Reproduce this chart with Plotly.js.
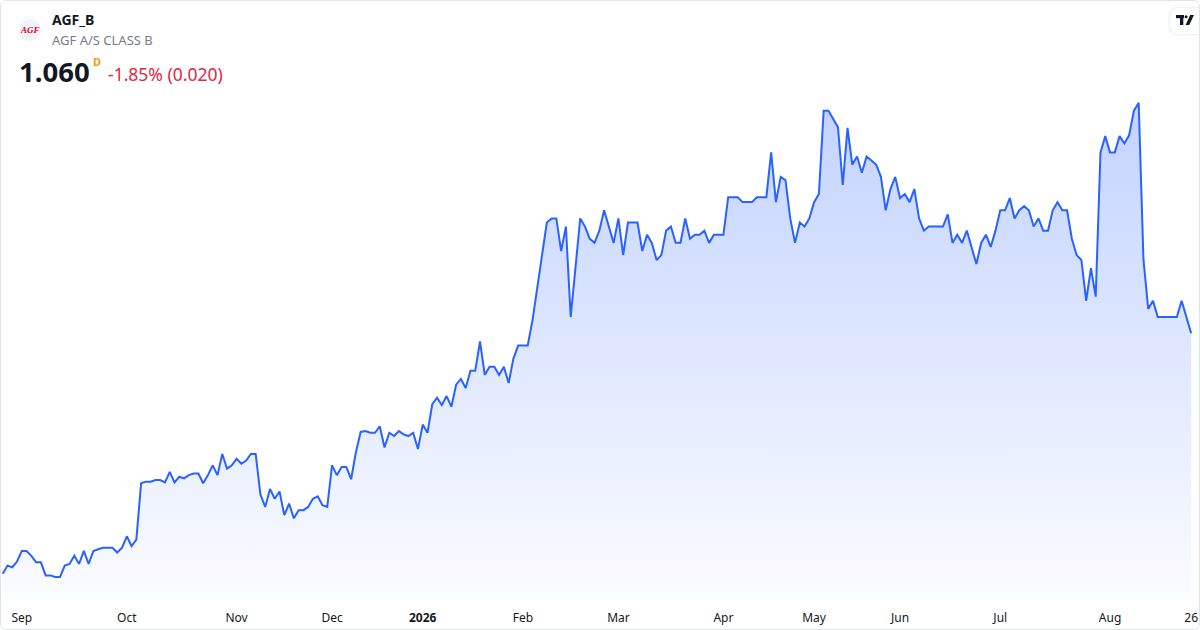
<!DOCTYPE html>
<html>
<head>
<meta charset="utf-8">
<script src="https://cdn.plot.ly/plotly-3.0.1.min.js"></script>
<style>
  html, body { margin: 0; padding: 0; background: #ffffff; }
  #wrap { position: relative; width: 1200px; height: 630px; overflow: hidden; }
  #chart { width: 1200px; height: 630px; }
  #frame { position: absolute; left: 0; top: 0; width: 1198px; height: 628px;
           border: 1px solid #e0e3eb; border-radius: 6px; pointer-events: none; }
</style>
</head>
<body>
<div id="wrap">
  <div id="chart"></div>
  <div id="frame"></div>
</div>
<script>
// ---- Data (daily closes, AGF_B, late Aug 2025 – 26 Aug 2026) ----
const prices = [
  0.765, 0.775, 0.773, 0.780, 0.793, 0.793, 0.787, 0.779, 0.779, 0.763,
  0.763, 0.761, 0.761, 0.775, 0.777, 0.787, 0.777, 0.793, 0.777, 0.793,
  0.795, 0.797, 0.797, 0.797, 0.791, 0.797, 0.811, 0.799, 0.807, 0.876,
  0.878, 0.878, 0.880, 0.880, 0.877, 0.890, 0.877, 0.884, 0.882, 0.886,
  0.888, 0.888, 0.876, 0.886, 0.898, 0.886, 0.912, 0.894, 0.898, 0.906,
  0.900, 0.904, 0.912, 0.912, 0.862, 0.847, 0.869, 0.857, 0.866, 0.837,
  0.851, 0.833, 0.843, 0.843, 0.847, 0.857, 0.860, 0.849, 0.847, 0.898,
  0.886, 0.896, 0.896, 0.881, 0.914, 0.939, 0.940, 0.938, 0.938, 0.946,
  0.920, 0.938, 0.934, 0.940, 0.936, 0.934, 0.938, 0.918, 0.948, 0.938,
  0.973, 0.981, 0.972, 0.983, 0.970, 0.997, 1.004, 0.993, 1.014, 1.014,
  1.050, 1.009, 1.019, 1.019, 1.009, 1.019, 0.999, 1.029, 1.045, 1.045,
  1.045, 1.076, 1.117, 1.156, 1.196, 1.201, 1.201, 1.161, 1.191, 1.080,
  1.140, 1.201, 1.191, 1.176, 1.171, 1.186, 1.211, 1.191, 1.171, 1.201,
  1.156, 1.196, 1.196, 1.196, 1.161, 1.181, 1.171, 1.150, 1.156, 1.186,
  1.191, 1.171, 1.171, 1.201, 1.176, 1.181, 1.181, 1.186, 1.171, 1.181,
  1.181, 1.181, 1.227, 1.227, 1.227, 1.221, 1.221, 1.221, 1.227, 1.227,
  1.227, 1.282, 1.221, 1.252, 1.248, 1.201, 1.171, 1.196, 1.191, 1.201,
  1.221, 1.231, 1.333, 1.333, 1.323, 1.313, 1.242, 1.312, 1.267, 1.277,
  1.257, 1.277, 1.272, 1.267, 1.252, 1.211, 1.237, 1.252, 1.226, 1.231,
  1.221, 1.237, 1.201, 1.186, 1.191, 1.191, 1.191, 1.191, 1.206, 1.171,
  1.181, 1.171, 1.186, 1.166, 1.145, 1.171, 1.181, 1.166, 1.186, 1.211,
  1.211, 1.226, 1.201, 1.211, 1.216, 1.211, 1.191, 1.201, 1.186, 1.186,
  1.211, 1.221, 1.211, 1.211, 1.176, 1.156, 1.150, 1.100, 1.140, 1.105,
  1.282, 1.302, 1.282, 1.282, 1.302, 1.293, 1.303, 1.333, 1.343, 1.151,
  1.090, 1.100, 1.080, 1.080, 1.080, 1.080, 1.080, 1.100, 1.080, 1.060
];
// Index of the first trading session of each month (and the last session)
const tickIndex = [4, 26, 49, 69, 88, 109, 129, 151, 170, 188, 209, 232, 249];
const tickLabels = ['Sep', 'Oct', 'Nov', 'Dec', '<b>2026</b>', 'Feb', 'Mar', 'Apr', 'May', 'Jun', 'Jul', 'Aug', '26'];

const symbol = 'AGF_B';
const company = 'AGF A/S CLASS B';
const lastPrice = '1.060';
const changeText = '-1.85% (0.020)';

// ---- Layout helpers (pixel -> paper) ----
const W = 1200, PH = 600;
const px = x => x / W;
const py = y => 1 - y / PH;

const xs = prices.map((_, i) => i);

const trace = {
  x: xs,
  y: prices,
  type: 'scatter',
  mode: 'lines',
  line: { color: '#2962ff', width: 2 },
  fill: 'tozeroy',
  fillgradient: {
    type: 'vertical',
    start: 0.733,
    stop: 1.343,
    colorscale: [[0, 'rgba(41,98,255,0.02)'], [1, 'rgba(41,98,255,0.28)']]
  },
  hoverinfo: 'skip'
};

function rectPath(x0, y0, x1, y1) {
  return `M${px(x0)},${py(y0)} L${px(x1)},${py(y0)} L${px(x1)},${py(y1)} L${px(x0)},${py(y1)} Z`;
}
function polyPath(pts) {
  return 'M' + pts.map(p => `${px(p[0])},${py(p[1])}`).join(' L') + ' Z';
}
function roundRect(x0, y0, x1, y1, r) {
  const k = 0.55 * r;
  return `M${px(x0 + r)},${py(y0)} L${px(x1 - r)},${py(y0)} ` +
    `C${px(x1 - r + k)},${py(y0)} ${px(x1)},${py(y0 + r - k)} ${px(x1)},${py(y0 + r)} ` +
    `L${px(x1)},${py(y1 - r)} ` +
    `C${px(x1)},${py(y1 - r + k)} ${px(x1 - r + k)},${py(y1)} ${px(x1 - r)},${py(y1)} ` +
    `L${px(x0 + r)},${py(y1)} ` +
    `C${px(x0 + r - k)},${py(y1)} ${px(x0)},${py(y1 - r + k)} ${px(x0)},${py(y1 - r)} ` +
    `L${px(x0)},${py(y0 + r)} ` +
    `C${px(x0)},${py(y0 + r - k)} ${px(x0 + r - k)},${py(y0)} ${px(x0 + r)},${py(y0)} Z`;
}

const font = '"Noto Sans", "Open Sans", Roboto, sans-serif';

const layout = {
  width: 1200,
  height: 630,
  margin: { l: 0, r: 0, t: 0, b: 30, pad: 0 },
  paper_bgcolor: '#ffffff',
  plot_bgcolor: '#ffffff',
  showlegend: false,
  font: { family: font, color: '#131722', size: 12 },
  xaxis: {
    range: [-0.566, 250.85],
    showgrid: false,
    zeroline: false,
    showline: false,
    ticks: '',
    tickmode: 'array',
    tickvals: tickIndex,
    ticktext: tickLabels,
    tickfont: { family: font, size: 12, color: '#131722' },
    ticklabelstandoff: 9,
    fixedrange: true
  },
  yaxis: {
    range: [0.7328, 1.469],
    visible: false,
    showgrid: false,
    zeroline: false,
    fixedrange: true
  },
  shapes: [
    // logo circle
    { type: 'circle', xref: 'paper', yref: 'paper',
      x0: px(19), x1: px(41), y0: py(41), y1: py(19),
      fillcolor: '#f0f3fa', line: { width: 0 } },
    // TradingView badge shadow + body
    { type: 'path', xref: 'paper', yref: 'paper', path: roundRect(1168.5, 6.5, 1208, 35.5, 10),
      fillcolor: 'rgba(0,0,0,0.05)', line: { width: 0 } },
    { type: 'path', xref: 'paper', yref: 'paper', path: roundRect(1170, 8, 1207, 34, 9),
      fillcolor: '#ffffff', line: { width: 0 } },
    // TV glyph
    { type: 'path', xref: 'paper', yref: 'paper', path: rectPath(1176, 15, 1184, 18.2),
      fillcolor: '#131722', line: { width: 0 } },
    { type: 'path', xref: 'paper', yref: 'paper', path: rectPath(1180, 15, 1183.3, 25),
      fillcolor: '#131722', line: { width: 0 } },
    { type: 'circle', xref: 'paper', yref: 'paper',
      x0: px(1184.6), x1: px(1187.6), y0: py(18.2), y1: py(15.2),
      fillcolor: '#131722', line: { width: 0 } },
    { type: 'path', xref: 'paper', yref: 'paper',
      path: polyPath([[1190.2, 15], [1194, 15], [1189.2, 25], [1185.6, 25]]),
      fillcolor: '#131722', line: { width: 0 } }
  ],
  annotations: [
    { xref: 'paper', yref: 'paper', x: px(30), y: py(30.5), xanchor: 'center', yanchor: 'middle',
      text: '<b><i>AGF</i></b>', showarrow: false,
      font: { family: 'Liberation Serif, serif', size: 9, color: '#e4002b' } },
    { xref: 'paper', yref: 'paper', x: px(50), y: py(20), xanchor: 'left', yanchor: 'middle',
      text: '<b>' + symbol + '</b>', showarrow: false,
      font: { family: font, size: 14, color: '#131722' } },
    { xref: 'paper', yref: 'paper', x: px(49.5), y: py(40), xanchor: 'left', yanchor: 'middle',
      text: company, showarrow: false,
      font: { family: font, size: 13, color: '#787b86' } },
    { xref: 'paper', yref: 'paper', x: px(17), y: py(71.5), xanchor: 'left', yanchor: 'middle',
      text: '<b>' + lastPrice + '</b>', showarrow: false,
      font: { family: font, size: 27.5, color: '#131722' } },
    { xref: 'paper', yref: 'paper', x: px(91), y: py(61), xanchor: 'left', yanchor: 'middle',
      text: '<b>D</b>', showarrow: false,
      font: { family: font, size: 11, color: '#ff9800' } },
    { xref: 'paper', yref: 'paper', x: px(106), y: py(74), xanchor: 'left', yanchor: 'middle',
      text: changeText, showarrow: false,
      font: { family: font, size: 17.5, color: '#e0283f' } }
  ]
};

Plotly.newPlot('chart', [trace], layout, { staticPlot: true, displayModeBar: false });
</script>
</body>
</html>
